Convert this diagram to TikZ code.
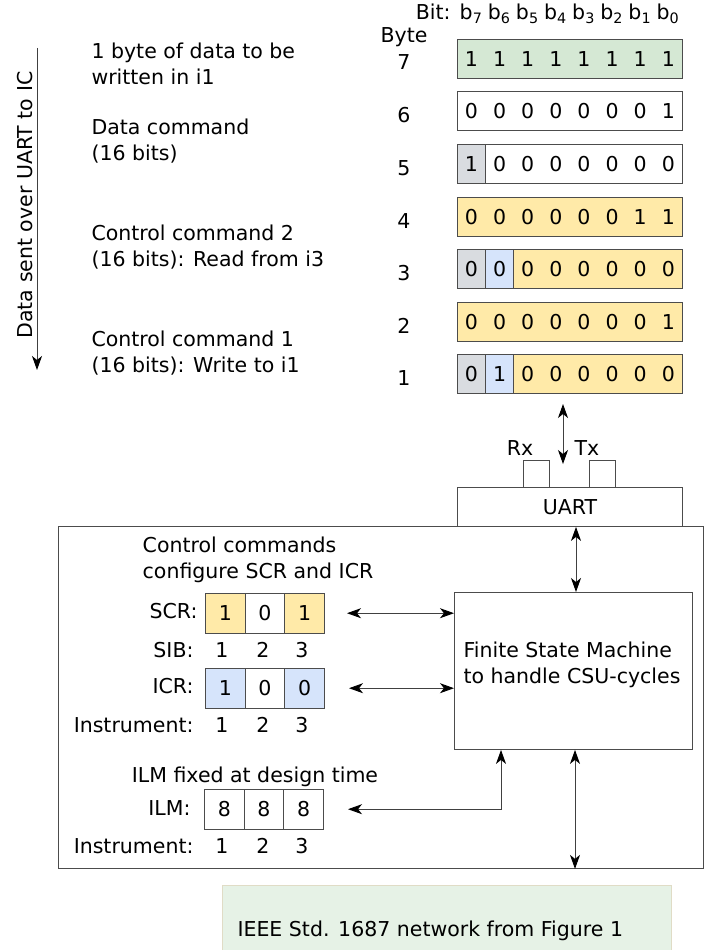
\documentclass[tikz,border=0pt]{standalone}
\usepackage{fontspec}
\setmainfont{DejaVu Sans}
\usetikzlibrary{arrows.meta}

\definecolor{rowgreen}{HTML}{D5E8D4}
\definecolor{rowyellow}{HTML}{FFEAA8}
\definecolor{rowgray}{HTML}{D9DCE0}
\definecolor{rowblue}{HTML}{D6E4FB}
\definecolor{netfill}{HTML}{E6F2E6}
\definecolor{netedge}{HTML}{E0DCC6}

\newcommand{\bitcells}[1]{\foreach \b in {#1}{\makebox[28.125pt]{\b}}}

\begin{document}
\begin{tikzpicture}[x=1pt,y=-1pt,font=\fontsize{20.5}{26}\selectfont,
  cellbox/.style={draw=black!70,line width=0.9pt,inner sep=0pt,minimum height=39pt,anchor=north west},
  regbox/.style={draw=black!70,line width=0.9pt,inner sep=0pt,minimum width=39.7pt,minimum height=39.5pt,anchor=north west},
  wire/.style={draw=black!75,line width=0.9pt},
  onehead/.style={-{Stealth[length=14pt,width=10pt,inset=4pt,black]}},
  twohead/.style={{Stealth[length=14pt,width=10pt,inset=4pt,black]}-{Stealth[length=14pt,width=10pt,inset=4pt,black]}}]
\useasboundingbox (0,0) rectangle (719,950);

% bit header
\node[anchor=base east] (bitlbl) at (454,20) {Bit:};
\foreach \n [count=\i from 0] in {7,6,5,4,3,2,1,0}
  \node[anchor=base] (bit\n) at ({471.06+28.125*\i},20) {b\textsubscript{\n}};
\node[anchor=base] (bytelbl) at (404,43) {Byte};

% bytes sent over the UART
\node[cellbox,fill=rowgreen,minimum width=225pt] (b7) at (457,39) {\bitcells{1,1,1,1,1,1,1,1}};
\node[cellbox,fill=white,minimum width=225pt] (b6) at (457,91) {\bitcells{0,0,0,0,0,0,0,1}};
\node[cellbox,fill=rowgray,minimum width=28.125pt] (b5a) at (457,144) {\bitcells{1}};
\node[cellbox,fill=white,minimum width=196.875pt] (b5b) at (485.125,144) {\bitcells{0,0,0,0,0,0,0}};
\node[cellbox,fill=rowyellow,minimum width=225pt] (b4) at (457,197) {\bitcells{0,0,0,0,0,0,1,1}};
\node[cellbox,fill=rowgray,minimum width=28.125pt] (b3a) at (457,249) {\bitcells{0}};
\node[cellbox,fill=rowblue,minimum width=28.125pt] (b3b) at (485.125,249) {\bitcells{0}};
\node[cellbox,fill=rowyellow,minimum width=168.75pt] (b3c) at (513.25,249) {\bitcells{0,0,0,0,0,0}};
\node[cellbox,fill=rowyellow,minimum width=225pt] (b2) at (457,302) {\bitcells{0,0,0,0,0,0,0,1}};
\node[cellbox,fill=rowgray,minimum width=28.125pt] (b1a) at (457,354) {\bitcells{0}};
\node[cellbox,fill=rowblue,minimum width=28.125pt] (b1b) at (485.125,354) {\bitcells{1}};
\node[cellbox,fill=rowyellow,minimum width=168.75pt] (b1c) at (513.25,354) {\bitcells{0,0,0,0,0,0}};

% byte numbers
\node[anchor=base] (n7) at (404,70) {7};
\node[anchor=base] (n6) at (404,122) {6};
\node[anchor=base] (n5) at (404,175) {5};
\node[anchor=base] (n4) at (404,228) {4};
\node[anchor=base] (n3) at (404,280) {3};
\node[anchor=base] (n2) at (404,333) {2};
\node[anchor=base] (n1) at (404,385) {1};

% meaning of the bytes
\node[anchor=west,align=left] (d7) at (88,64) {1 byte of data to be\\written in i1};
\node[anchor=west,align=left] (d6) at (88,141) {Data command\\(16 bits)};
\node[anchor=west,align=left] (d4) at (88,247) {Control command 2\\(16 bits): Read from i3};
\node[anchor=west,align=left] (d2) at (88,353) {Control command 1\\(16 bits): Write to i1};

% direction of sending
\coordinate (sendtop) at (37,48);
\coordinate (sendbot) at (37,370);
\draw[wire,onehead] (sendtop) -- (sendbot);
\node[rotate=90] (sendlbl) at (25,205) {Data sent over UART to IC};

% UART
\node[draw=black!70,line width=0.9pt,fill=white,inner sep=0pt,minimum width=26pt,minimum height=27pt,anchor=north west] (rx) at (523,460) {};
\node[draw=black!70,line width=0.9pt,fill=white,inner sep=0pt,minimum width=26pt,minimum height=27pt,anchor=north west] (tx) at (589,460) {};
\node[anchor=base] (rxlbl) at (520,455) {Rx};
\node[anchor=base] (txlbl) at (587,455) {Tx};
\node[draw=black!70,line width=0.9pt,fill=white,inner sep=0pt,minimum width=225pt,minimum height=39pt,anchor=north west] (uart) at (457,487) {UART};
\coordinate (linkup) at (563,404);
\coordinate (linkdn) at (563,464);
\draw[wire,twohead] (linkup) -- (linkdn);

% the IC
\node[draw=black!70,line width=0.9pt,inner sep=0pt,minimum width=645pt,minimum height=342pt,anchor=north west] (ic) at (58,526) {};
\node[draw=black!70,line width=0.9pt,inner sep=0pt,minimum width=238pt,minimum height=157pt,anchor=north west] (fsm) at (454,592) {};
\node[align=left] (fsmlbl) at (572,665) {Finite State Machine\\to handle CSU-cycles};
\draw[wire,twohead] (uart.south -| 576,0) -- (fsm.north -| 576,0);
\draw[wire,twohead] (fsm.south -| 575,0) -- (ic.south -| 575,0);

% SCR and ICR
\node[align=left] (cfglbl) at (258,560) {Control commands\\configure SCR and ICR};
\node[regbox,fill=rowyellow] (scr1) at (205,593) {1};
\node[regbox,fill=white] (scr2) at (244.7,593) {0};
\node[regbox,fill=rowyellow] (scr3) at (284.4,593) {1};
\node[anchor=base east] (scrlbl) at (201,618) {SCR:};
\node[anchor=base east] (siblbl) at (197,657) {SIB:};
\node[anchor=base] (sib1) at (222,657) {1};
\node[anchor=base] (sib2) at (263,657) {2};
\node[anchor=base] (sib3) at (302,657) {3};
\node[regbox,fill=rowblue] (icr1) at (205,668) {1};
\node[regbox,fill=white] (icr2) at (244.7,668) {0};
\node[regbox,fill=rowblue] (icr3) at (284.4,668) {0};
\node[anchor=base east] (icrlbl) at (197,693) {ICR:};
\node[anchor=base east] (inslbl) at (197,732) {Instrument:};
\node[anchor=base] (ins1) at (222,732) {1};
\node[anchor=base] (ins2) at (263,732) {2};
\node[anchor=base] (ins3) at (302,732) {3};
\draw[wire,twohead] ([xshift=22pt]scr3.east) -- (fsm.west |- scr3.east);
\draw[wire,twohead] ([xshift=24pt]icr3.east) -- (fsm.west |- icr3.east);

% ILM
\node[anchor=base] (ilmtxt) at (255,782) {ILM fixed at design time};
\node[regbox,fill=white] (ilm1) at (204,789) {8};
\node[regbox,fill=white] (ilm2) at (243.7,789) {8};
\node[regbox,fill=white] (ilm3) at (283.4,789) {8};
\node[anchor=base east] (ilmlbl) at (194,815) {ILM:};
\node[anchor=base east] (inslblb) at (197,853) {Instrument:};
\node[anchor=base] (insb1) at (222,853) {1};
\node[anchor=base] (insb2) at (263,853) {2};
\node[anchor=base] (insb3) at (302,853) {3};
\draw[wire,twohead] ([xshift=24pt]ilm3.east) -| (fsm.south -| 501,0);

% network
\node[draw=netedge,fill=netfill,line width=0.9pt,inner sep=0pt,minimum width=449pt,minimum height=68pt,anchor=north west] (net) at (222,885) {};
\node[anchor=base west] (netlbl) at (234,936) {IEEE Std. 1687 network from Figure 1};
\end{tikzpicture}
\end{document}
